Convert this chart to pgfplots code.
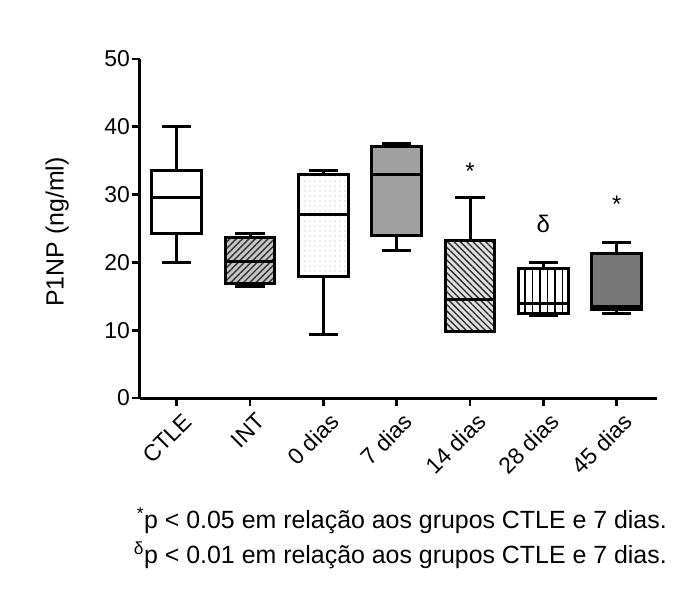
\documentclass[border=0pt]{standalone}
\usepackage{fontspec}
\setmainfont{Liberation Sans}
\usepackage{pgfplots}
\pgfplotsset{compat=1.18}
\usepgfplotslibrary{statistics}
\usetikzlibrary{patterns.meta}

\definecolor{midgray}{HTML}{A0A0A0}
\definecolor{darkgray2}{HTML}{787878}

\begin{document}
\begin{tikzpicture}
\begin{axis}[
    name=ax,
    scale only axis,
    width=517bp, height=339bp,
    xmin=-0.5, xmax=6.55,
    ymin=0, ymax=50,
    axis lines=left,
    axis line style={-, line width=3bp},
    tick align=outside,
    major tick length=8bp,
    tick style={line width=2.6bp, black},
    xtick={0,...,6},
    xticklabels={CTLE, INT, 0 dias, 7 dias, 14 dias, 28 dias, 45 dias},
    xticklabel style={rotate=45, anchor=north east, font=\fontsize{23}{23}\selectfont, inner sep=2bp, yshift=-6bp, xshift=2bp},
    ytick={0,10,...,50},
    yticklabel style={font=\fontsize{23}{23}\selectfont, inner sep=2bp},
    /pgf/number format/assume math mode=true,
    ylabel={P1NP (ng/ml)},
    ylabel style={at={(axis description cs:-0.16,0.49)}, anchor=center, font=\fontsize{25}{25}\selectfont},
    boxplot/draw direction=y,
    boxplot/box extend=0.68,
    boxplot/whisker extend=0.4,
    bx/.style={draw=black, line width=3bp, solid},
    clip=false,
]
% CTLE
\addplot[bx, boxplot prepared={lower whisker=20, lower quartile=24.3, median=29.5, upper quartile=33.6, upper whisker=40, draw position=0},
  boxplot/every box/.style={fill=white}] coordinates {};
% INT
\addplot[bx, boxplot prepared={lower whisker=16.4, lower quartile=16.9, median=20.2, upper quartile=23.7, upper whisker=24.3, draw position=1},
  boxplot/every box/.style={fill=gray!45, postaction={pattern={Lines[angle=45, distance=4.5bp, line width=1.4bp]}, pattern color=black!80}}] coordinates {};
% 0 dias
\addplot[bx, boxplot prepared={lower whisker=9.4, lower quartile=17.9, median=27.0, upper quartile=33.0, upper whisker=33.6, draw position=2},
  boxplot/every box/.style={fill=white, postaction={pattern={Dots[distance=5bp, radius=0.6bp]}, pattern color=gray!70}}] coordinates {};
% 7 dias
\addplot[bx, boxplot prepared={lower whisker=21.7, lower quartile=23.9, median=33.0, upper quartile=37.1, upper whisker=37.6, draw position=3},
  boxplot/every box/.style={fill=midgray}] coordinates {};
% 14 dias
\addplot[bx, boxplot prepared={lower whisker=9.8, lower quartile=9.8, median=14.5, upper quartile=23.2, upper whisker=29.5, draw position=4},
  boxplot/every box/.style={fill=gray!25, postaction={pattern={Lines[angle=-45, distance=4.5bp, line width=1.3bp]}, pattern color=black!85}}] coordinates {};
% 28 dias
\addplot[bx, boxplot prepared={lower whisker=12.1, lower quartile=12.5, median=13.9, upper quartile=19.1, upper whisker=20.0, draw position=5},
  boxplot/every box/.style={fill=white, postaction={pattern={Lines[angle=90, distance=7.5bp, line width=1.8bp]}, pattern color=black}}] coordinates {};
% 45 dias
\addplot[bx, boxplot prepared={lower whisker=12.5, lower quartile=13.0, median=13.5, upper quartile=21.3, upper whisker=22.9, draw position=6},
  boxplot/every box/.style={fill=darkgray2}] coordinates {};
% significance markers
\addplot[only marks, mark=*, mark size=0pt, mark options={draw=none, fill=none},
  nodes near coords, point meta=explicit symbolic,
  every node near coord/.style={anchor=center, inner sep=0pt, font=\fontsize{24}{24}\selectfont}]
  coordinates {(4,33.4)[*] (5,25.6)[δ] (6,28.6)[*]};
\end{axis}
\node[anchor=base east, font=\fontsize{25}{25}\selectfont, inner sep=0pt]
  at ([shift={(10bp,-130bp)}]ax.south east) {\textsuperscript{*}p < 0.05 em relação aos grupos CTLE e 7 dias.};
\node[anchor=base east, font=\fontsize{25}{25}\selectfont, inner sep=0pt]
  at ([shift={(10bp,-165bp)}]ax.south east) {\textsuperscript{δ}p < 0.01 em relação aos grupos CTLE e 7 dias.};
\pgfresetboundingbox
\path[use as bounding box] ([shift={(-140bp,-198bp)}]ax.south west) rectangle ([shift={(28bp,59bp)}]ax.north east);
\end{tikzpicture}
\end{document}
